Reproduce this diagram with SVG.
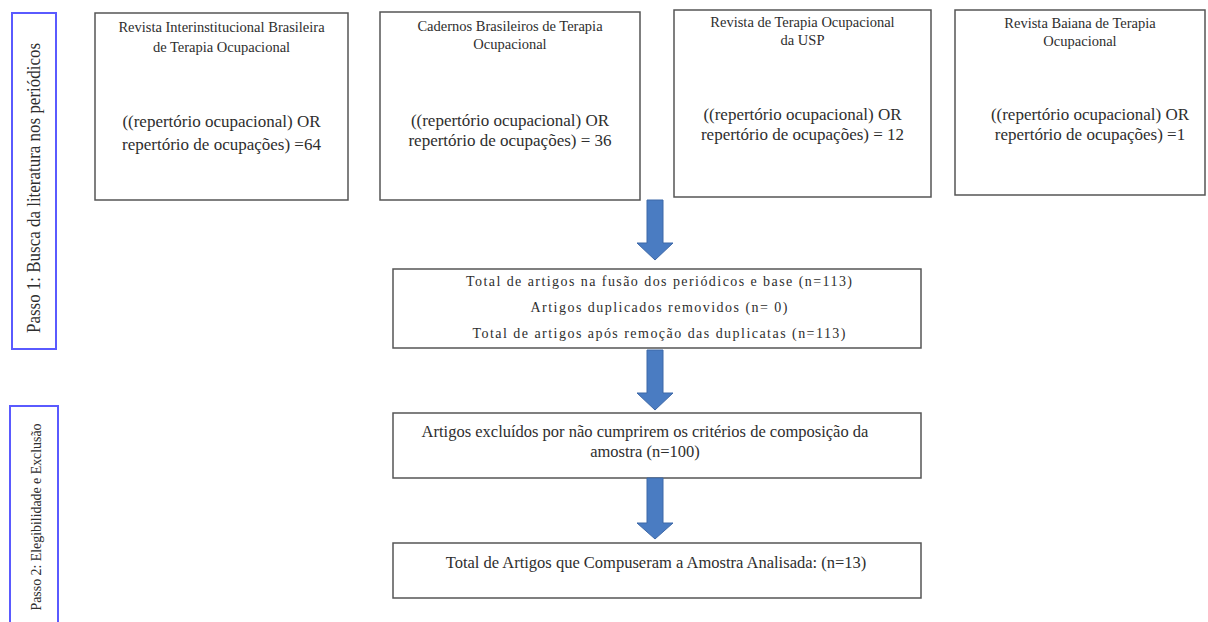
<svg xmlns="http://www.w3.org/2000/svg" width="1208" height="622" viewBox="0 0 1208 622">
<style>
.box{fill:#fff;stroke:#555;stroke-width:1.5}
.step{fill:#fff;stroke:#5a5aff;stroke-width:2}
.t{font-family:"Liberation Serif","Times New Roman",serif;fill:#2e2e2e;text-anchor:middle}
.ti{font-size:14.5px}
.bd{font-size:17px}
.md{font-size:14px}
.lg{font-size:16.5px}
.arrow{fill:#4a7cc2;stroke:#3d68a8;stroke-width:1}
</style>
<rect width="1208" height="622" fill="#fff"/>
<g id="passo1">
<rect class="step" x="12" y="13" width="44" height="336"/>
<text class="t" style="font-size:18px" transform="translate(40,188) rotate(-90)" textLength="290" lengthAdjust="spacingAndGlyphs">Passo 1: Busca da literatura nos periódicos</text>
</g>
<g id="passo2">
<rect class="step" x="10" y="406" width="48" height="230"/>
<text class="t" style="font-size:15px" transform="translate(41,517) rotate(-90)" textLength="187" lengthAdjust="spacingAndGlyphs">Passo 2: Elegibilidade e Exclusão</text>
</g>
<g id="revista1">
<rect class="box" x="95" y="13" width="253" height="187"/>
<text class="t ti" x="221.5" y="32">Revista Interinstitucional Brasileira</text>
<text class="t ti" x="221.5" y="52">de Terapia Ocupacional</text>
<text class="t bd" x="221.5" y="127">((repertório ocupacional) OR</text>
<text class="t bd" x="221.5" y="150">repertório de ocupações) =64</text>
</g>
<g id="revista2">
<rect class="box" x="380" y="12" width="260" height="188"/>
<text class="t ti" x="510" y="31">Cadernos Brasileiros de Terapia</text>
<text class="t ti" x="510" y="49">Ocupacional</text>
<text class="t bd" x="510" y="126">((repertório ocupacional) OR</text>
<text class="t bd" x="510" y="146">repertório de ocupações) = 36</text>
</g>
<g id="revista3">
<rect class="box" x="674" y="10" width="257" height="187"/>
<text class="t ti" x="802.5" y="27">Revista de Terapia Ocupacional</text>
<text class="t ti" x="802.5" y="45">da USP</text>
<text class="t bd" x="802.5" y="120">((repertório ocupacional) OR</text>
<text class="t bd" x="802.5" y="140">repertório de ocupações) = 12</text>
</g>
<g id="revista4">
<rect class="box" x="955" y="10" width="250" height="185"/>
<text class="t ti" x="1080" y="28">Revista Baiana de Terapia</text>
<text class="t ti" x="1080" y="46">Ocupacional</text>
<text class="t bd" x="1090" y="120">((repertório ocupacional) OR</text>
<text class="t bd" x="1090" y="140">repertório de ocupações) =1</text>
</g>
<g id="fusao">
<rect class="box" x="393" y="269" width="528" height="79"/>
<text class="t md" x="659" y="286" textLength="386" lengthAdjust="spacing">Total de artigos na fusão dos periódicos e base (n=113)</text>
<text class="t md" x="659" y="312" textLength="257" lengthAdjust="spacing">Artigos duplicados removidos (n= 0)</text>
<text class="t md" x="659" y="338" textLength="373" lengthAdjust="spacing">Total de artigos após remoção das duplicatas (n=113)</text>
</g>
<g id="excluidos">
<rect class="box" x="393" y="413" width="528" height="65"/>
<text class="t lg" x="645" y="437">Artigos excluídos por não cumprirem os critérios de composição da</text>
<text class="t lg" x="645" y="457">amostra (n=100)</text>
</g>
<g id="amostra">
<rect class="box" x="393" y="543" width="528" height="55"/>
<text class="t lg" x="656" y="568">Total de Artigos que Compuseram a Amostra Analisada: (n=13)</text>
</g>
<g id="connectors">
<path class="arrow" d="M647,200 H663 V243 H673 L655,260 L637,243 H647 Z"/>
<path class="arrow" d="M647,350 H663 V393 H673 L655,410 L637,393 H647 Z"/>
<path class="arrow" d="M647,478 H663 V523 H673 L655,539 L637,523 H647 Z"/>
</g>
</svg>
